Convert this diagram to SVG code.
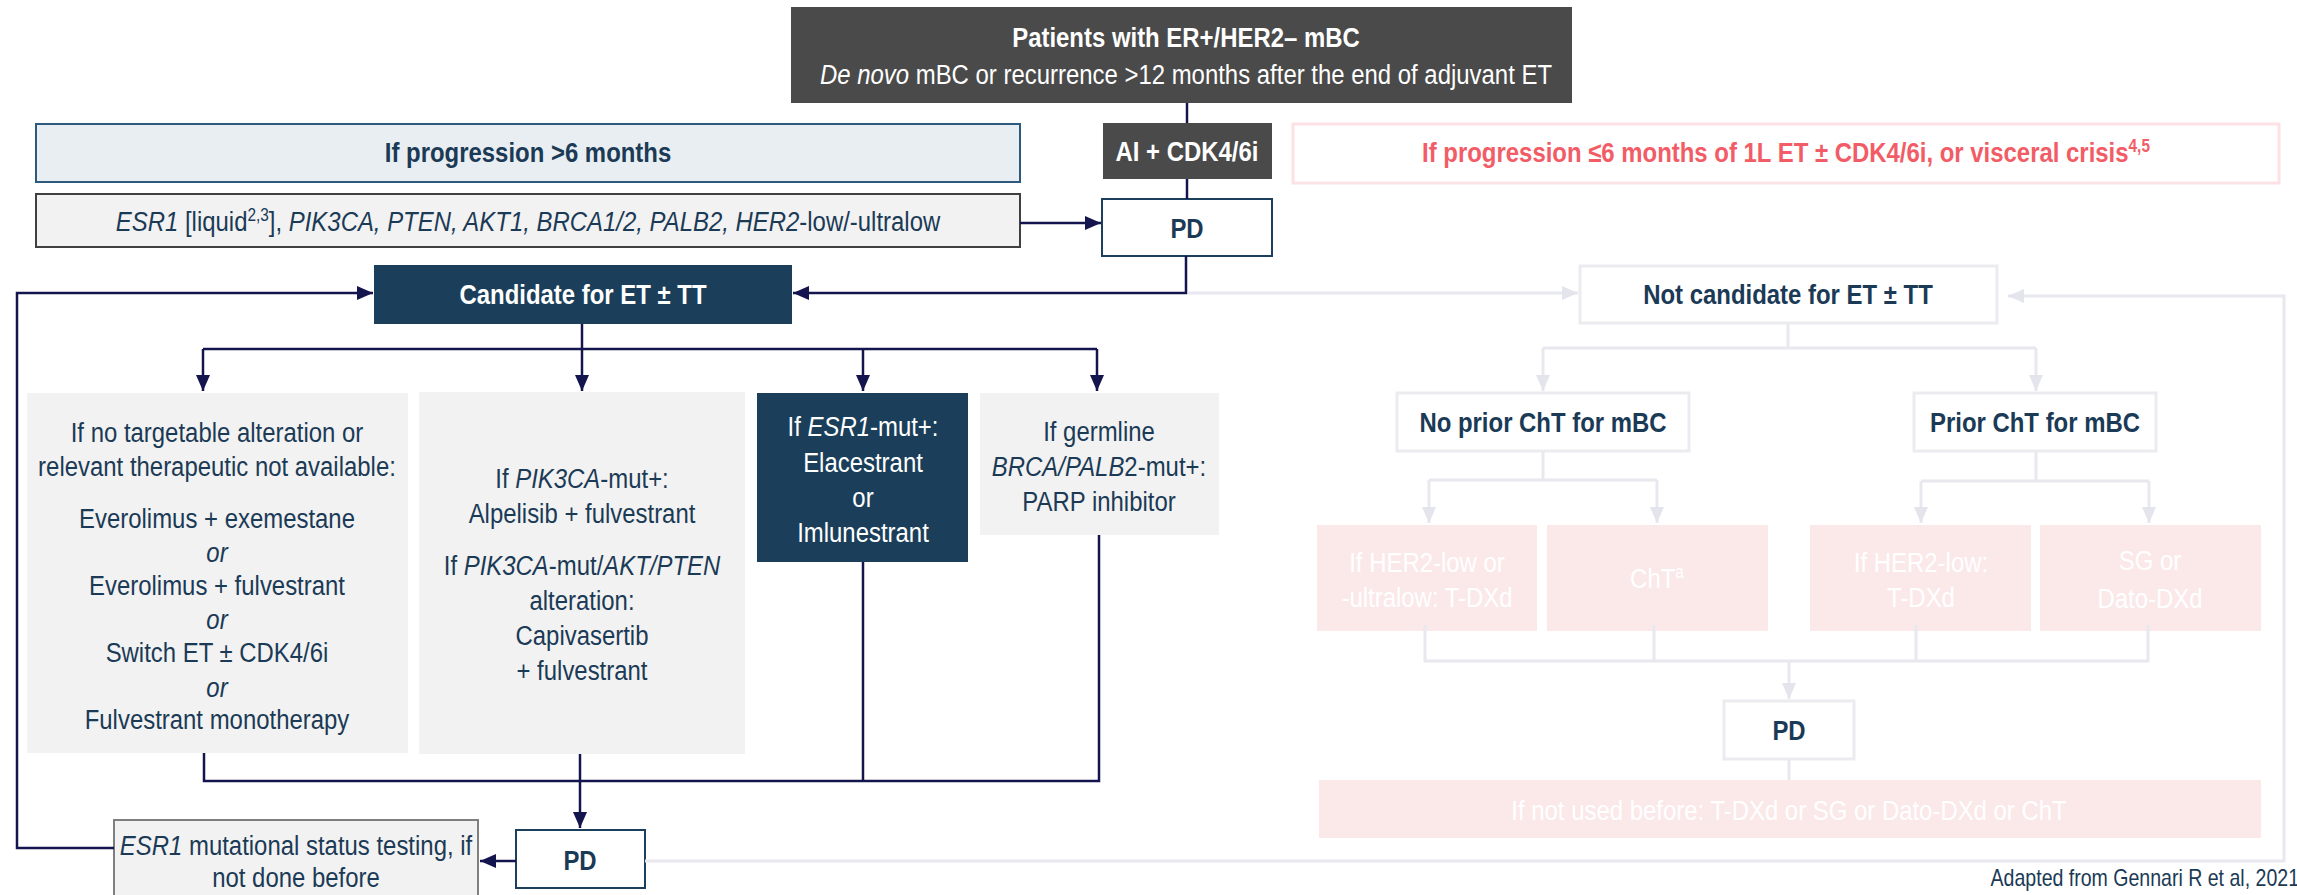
<svg xmlns="http://www.w3.org/2000/svg" width="2297" height="895" viewBox="0 0 2297 895">
<style>
text{font-family:"Liberation Sans","Arial",sans-serif;font-size:28px;text-anchor:middle;}
.b{font-weight:bold}
.w{fill:#ffffff}
.n{fill:#1b3a56}
.r{fill:#f25c66}
.i{font-style:italic}
.c{stroke:#14144e;stroke-width:2.5;fill:none}
.f{stroke:#e8e8ef;stroke-width:3;fill:none}
.g{fill:#f2f2f2}
.dk{fill:#1b3f5a}
.gr{fill:#4a4a4a}
.pk{fill:#fbe9ea}
.fb{fill:#ffffff;stroke:#ebebf0;stroke-width:3}
</style>
<defs>
<marker id="a" viewBox="0 0 16 14" refX="16" refY="7" markerWidth="16" markerHeight="14" orient="auto" markerUnits="userSpaceOnUse"><path d="M0,0 L16,7 L0,14 z" fill="#14144e"/></marker>
<marker id="fa" viewBox="0 0 16 14" refX="16" refY="7" markerWidth="16" markerHeight="14" orient="auto" markerUnits="userSpaceOnUse"><path d="M0,0 L16,7 L0,14 z" fill="#e4e4ec"/></marker>
</defs>
<rect width="2297" height="895" fill="#ffffff"/>

<g id="top">
<rect x="791" y="7" width="781" height="96" class="gr"/>
<text transform="translate(1186,0) scale(.855,1)" y="47" class="b w">Patients with ER+/HER2– mBC</text>
<text transform="translate(1186,0) scale(.855,1)" y="84" class="w"><tspan class="i">De novo</tspan> mBC or recurrence &gt;12 months after the end of adjuvant ET</text>
</g>
<g id="ai">
<rect x="1103" y="123" width="169" height="56" class="gr"/>
<text transform="translate(1187,0) scale(.855,1)" y="161" class="b w">AI + CDK4/6i</text>
</g>
<g id="pd1">
<rect x="1102" y="199" width="170" height="57" fill="#ffffff" stroke="#1b3f5c" stroke-width="2"/>
<text transform="translate(1187,0) scale(.855,1)" y="238" class="b n">PD</text>
</g>
<g id="prog6">
<rect x="36" y="124" width="984" height="58" fill="#e9eef2" stroke="#2c5a7e" stroke-width="2"/>
<text transform="translate(528,0) scale(.855,1)" y="162" class="b n">If progression &gt;6 months</text>
</g>
<g id="esr1liq">
<rect x="36" y="194" width="984" height="53" class="g" stroke="#404040" stroke-width="2"/>
<text transform="translate(528,0) scale(.855,1)" y="231" class="n"><tspan class="i">ESR1</tspan> [liquid<tspan font-size="18" dy="-10">2,3</tspan><tspan dy="10">], </tspan><tspan class="i">PIK3CA, PTEN, AKT1, BRCA1/2, PALB2, HER2</tspan>-low/-ultralow</text>
</g>
<g id="cand">
<rect x="374" y="265" width="418" height="59" class="dk"/>
<text transform="translate(583,0) scale(.855,1)" y="304" class="b w">Candidate for ET ± TT</text>
</g>
<g id="box1">
<rect x="27" y="393" width="381" height="360" class="g"/>
<text transform="translate(217,0) scale(.855,1)" y="442" class="n">If no targetable alteration or</text>
<text transform="translate(217,0) scale(.855,1)" y="476" class="n">relevant therapeutic not available:</text>
<text transform="translate(217,0) scale(.855,1)" y="528" class="n">Everolimus + exemestane</text>
<text transform="translate(217,0) scale(.855,1)" y="562" class="n i">or</text>
<text transform="translate(217,0) scale(.855,1)" y="595" class="n">Everolimus + fulvestrant</text>
<text transform="translate(217,0) scale(.855,1)" y="629" class="n i">or</text>
<text transform="translate(217,0) scale(.855,1)" y="662" class="n">Switch ET ± CDK4/6i</text>
<text transform="translate(217,0) scale(.855,1)" y="697" class="n i">or</text>
<text transform="translate(217,0) scale(.855,1)" y="729" class="n">Fulvestrant monotherapy</text>
</g>
<g id="box2">
<rect x="419" y="392" width="326" height="362" class="g"/>
<text transform="translate(582,0) scale(.855,1)" y="488" class="n">If <tspan class="i">PIK3CA</tspan>-mut+:</text>
<text transform="translate(582,0) scale(.855,1)" y="523" class="n">Alpelisib + fulvestrant</text>
<text transform="translate(582,0) scale(.855,1)" y="575" class="n">If <tspan class="i">PIK3CA</tspan>-mut/<tspan class="i">AKT/PTEN</tspan></text>
<text transform="translate(582,0) scale(.855,1)" y="610" class="n">alteration:</text>
<text transform="translate(582,0) scale(.855,1)" y="645" class="n">Capivasertib</text>
<text transform="translate(582,0) scale(.855,1)" y="680" class="n">+ fulvestrant</text>
</g>
<g id="box3">
<rect x="757" y="393" width="211" height="169" class="dk"/>
<text transform="translate(863,0) scale(.855,1)" y="436" class="w">If <tspan class="i">ESR1</tspan>-mut+:</text>
<text transform="translate(863,0) scale(.855,1)" y="472" class="w">Elacestrant</text>
<text transform="translate(863,0) scale(.855,1)" y="507" class="w">or</text>
<text transform="translate(863,0) scale(.855,1)" y="542" class="w">Imlunestrant</text>
</g>
<g id="box4">
<rect x="980" y="393" width="239" height="142" class="g"/>
<text transform="translate(1099,0) scale(.855,1)" y="441" class="n">If germline</text>
<text transform="translate(1099,0) scale(.855,1)" y="476" class="n"><tspan class="i">BRCA/PALB</tspan>2-mut+:</text>
<text transform="translate(1099,0) scale(.855,1)" y="511" class="n">PARP inhibitor</text>
</g>
<g id="pd2">
<rect x="516" y="830" width="129" height="58" fill="#ffffff" stroke="#1b3f5c" stroke-width="2"/>
<text transform="translate(580,0) scale(.855,1)" y="870" class="b n">PD</text>
</g>
<g id="esrtest">
<rect x="114" y="820" width="364" height="76" class="g" stroke="#7f7f7f" stroke-width="2"/>
<text transform="translate(296,0) scale(.855,1)" y="855" class="n"><tspan class="i">ESR1</tspan> mutational status testing, if</text>
<text transform="translate(296,0) scale(.855,1)" y="887" class="n">not done before</text>
</g>

<g id="red">
<rect x="1293" y="124" width="986" height="59" fill="#ffffff" stroke="#fde2e5" stroke-width="3"/>
<text transform="translate(1786,0) scale(.855,1)" y="162" class="b r">If progression ≤6 months of 1L ET ± CDK4/6i, or visceral crisis<tspan font-size="18" dy="-10">4,5</tspan></text>
</g>
<g id="notcand">
<rect x="1580" y="266" width="417" height="57" class="fb"/>
<text transform="translate(1788,0) scale(.855,1)" y="304" class="b n">Not candidate for ET ± TT</text>
</g>
<g id="noprior">
<rect x="1397" y="393" width="292" height="58" class="fb"/>
<text transform="translate(1543,0) scale(.855,1)" y="432" class="b n">No prior ChT for mBC</text>
</g>
<g id="prior">
<rect x="1914" y="393" width="242" height="58" class="fb"/>
<text transform="translate(2035,0) scale(.855,1)" y="432" class="b n">Prior ChT for mBC</text>
</g>
<g id="pkA">
<rect x="1317" y="525" width="220" height="106" class="pk"/>
<text transform="translate(1427,0) scale(.855,1)" y="572" class="w">If HER2-low or</text>
<text transform="translate(1427,0) scale(.855,1)" y="607" class="w">-ultralow: T-DXd</text>
</g>
<g id="pkB">
<rect x="1547" y="525" width="221" height="106" class="pk"/>
<text transform="translate(1657,0) scale(.855,1)" y="588" class="w">ChT<tspan font-size="18" dy="-10">a</tspan></text>
</g>
<g id="pkC">
<rect x="1810" y="525" width="221" height="106" class="pk"/>
<text transform="translate(1921,0) scale(.855,1)" y="572" class="w">If HER2-low:</text>
<text transform="translate(1921,0) scale(.855,1)" y="607" class="w">T-DXd</text>
</g>
<g id="pkD">
<rect x="2040" y="525" width="221" height="106" class="pk"/>
<text transform="translate(2150,0) scale(.855,1)" y="570" class="w">SG or</text>
<text transform="translate(2150,0) scale(.855,1)" y="608" class="w">Dato-DXd</text>
</g>
<g id="pd3">
<rect x="1724" y="701" width="130" height="58" class="fb"/>
<text transform="translate(1789,0) scale(.855,1)" y="740" class="b n">PD</text>
</g>
<g id="pkE">
<rect x="1319" y="780" width="942" height="58" class="pk"/>
<text transform="translate(1789,0) scale(.855,1)" y="820" class="w">If not used before: T-DXd or SG or Dato-DXd or ChT</text>
</g>
<g id="note">
<text transform="translate(2299,0) scale(.85,1)" y="886" class="n" style="text-anchor:end;font-size:23px">Adapted from Gennari R et al, 2021</text>
</g>

<g id="connectors">
<path class="c" d="M1187,103 V123"/>
<path class="c" d="M1187,179 V199"/>
<path class="c" d="M1020,223 H1101" marker-end="url(#a)"/>
<path class="c" d="M1186,256 V293 H793" marker-end="url(#a)"/>
<path class="c" d="M582,324 V391" marker-end="url(#a)"/>
<path class="c" d="M203,349 H1097"/>
<path class="c" d="M203,349 V391" marker-end="url(#a)"/>
<path class="c" d="M863,349 V391" marker-end="url(#a)"/>
<path class="c" d="M1097,349 V391" marker-end="url(#a)"/>
<path class="c" d="M204,753 V781 H1099 V535"/>
<path class="c" d="M863,562 V781"/>
<path class="c" d="M580,754 V828" marker-end="url(#a)"/>
<path class="c" d="M516,861 H480" marker-end="url(#a)"/>
<path class="c" d="M114,848 H17 V293 H373" marker-end="url(#a)"/>

<path class="f" d="M1188,293 H1578" marker-end="url(#fa)"/>
<path class="f" d="M1788,324 V348"/>
<path class="f" d="M1543,348 H2036"/>
<path class="f" d="M1543,348 V391" marker-end="url(#fa)"/>
<path class="f" d="M2036,348 V391" marker-end="url(#fa)"/>
<path class="f" d="M1543,452 V480"/>
<path class="f" d="M1429,480 H1657"/>
<path class="f" d="M1429,480 V523" marker-end="url(#fa)"/>
<path class="f" d="M1657,480 V523" marker-end="url(#fa)"/>
<path class="f" d="M2036,452 V481"/>
<path class="f" d="M1921,481 H2149"/>
<path class="f" d="M1921,481 V523" marker-end="url(#fa)"/>
<path class="f" d="M2149,481 V523" marker-end="url(#fa)"/>
<path class="f" d="M1425,625 V661 H2148 V625"/>
<path class="f" d="M1654,625 V661"/>
<path class="f" d="M1916,625 V661"/>
<path class="f" d="M1789,661 V699" marker-end="url(#fa)"/>
<path class="f" d="M1789,760 V780"/>
<path class="f" d="M645,861 H2284 V296 H2008" marker-end="url(#fa)"/>
</g>
</svg>
